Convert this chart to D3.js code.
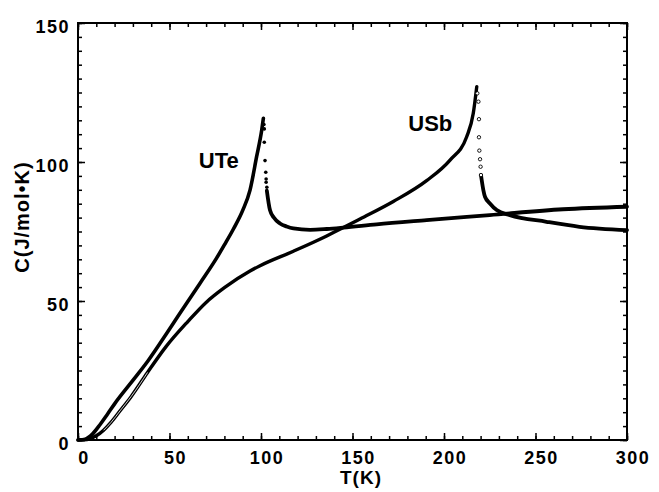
<!DOCTYPE html>
<html>
<head>
<meta charset="utf-8">
<script src="https://cdn.jsdelivr.net/npm/d3@7"></script>
<style>
  body { margin: 0; background: #fff; }
  text { font-family: "Liberation Sans", Arial, Helvetica, sans-serif; font-weight: bold; fill: #000; }
</style>
</head>
<body>
<div id="viz"></div>
<script>
// UTe: rising branch up to the transition
var uteRiseT = [0, 4, 8, 12, 16, 20, 30.2, 38.3, 48.5, 55.7, 61.2, 66.7, 75.8, 80, 85, 90, 94, 97.6, 100.4, 101.3];
var uteRiseC = [0, 0.3, 2.2, 5.5, 9.2, 13, 21.6, 28.5, 38.4, 45.6, 51, 56.4, 65.5, 70.2, 76, 82.6, 89.9, 101.9, 111.5, 115.7];
// UTe: sparse points dropping just above the transition
var uteDropT = [101.6, 101.8, 101.8, 102.2, 102.6, 102.8, 102.8, 103.2];
var uteDropC = [113.5, 111.9, 107.1, 100.5, 96.3, 93.9, 92.7, 90.9];
// UTe: above the transition
var uteHighT = [103.2, 104.9, 107, 110.4, 114, 117.7, 126.8, 135.9, 145, 163.2, 190.5, 225, 265, 300];
var uteHighC = [89.7, 82.7, 80, 77.9, 76.8, 76.1, 75.6, 75.9, 76.4, 77.6, 79.1, 80.9, 83, 83.9];

// USb
var usbRiseT = [0, 5, 10, 14, 18, 23, 29, 38, 48, 60, 70, 80, 94, 99.5, 117.7, 135.9, 145, 154.1, 172.3, 190.5, 203.3, 212.4, 216, 217.9];
var usbRiseC = [0, 0.2, 1.5, 3.5, 6.3, 10.5, 15.6, 24.3, 33.5, 42.6, 49.5, 54.8, 60.8, 62.7, 67.9, 73.4, 76.4, 79.5, 85.8, 93.3, 100.7, 109.1, 117.5, 127.1];
var usbDropT = [218.2, 218.8, 219.1, 219.1, 219.3, 219.7, 220, 220.2];
var usbDropC = [124.7, 121.7, 115.4, 108.9, 104.1, 101, 98.3, 95.3];
var usbHighT = [220.2, 220.6, 221.5, 222.4, 225.1, 228.8, 236, 256, 274, 300];
var usbHighC = [95.3, 93.5, 89.9, 87.5, 85.1, 82.7, 80.9, 78.5, 76.7, 75.5];

var labels = [{name: "UTe", T: 66, C: 98}, {name: "USb", T: 180.5, C: 111}];

var xTicks = [0, 50, 100, 150, 200, 250, 300];
var yTicks = [0, 50, 100, 150];

var W = 659, H = 492;
var margin = {left: 78, right: 32, top: 23, bottom: 52};

var svg = d3.select("#viz").append("svg")
	.attr("width", W)
	.attr("height", H);

var x = d3.scaleLinear().domain([0, 300]).range([margin.left, W - margin.right]);
var y = d3.scaleLinear().domain([0, 150]).range([H - margin.bottom, margin.top]);

function pts(ts, cs) {
	return ts.map(function(t, i){ return [t, cs[i]]; });
}

// axes with inward ticks
function drawAxis(axisFn, tr, step, max, size) {
	var vals = d3.range(0, max + 0.01, step);
	var g = svg.append("g").attr("transform", tr)
		.call(axisFn.tickValues(vals).tickSize(-size).tickFormat(""));
	g.selectAll("path").remove();
	g.selectAll("line").attr("stroke", "#000").attr("stroke-width", 1.5);
	return g;
}
var trBottom = "translate(0," + y(0) + ")", trTop = "translate(0," + y(150) + ")";
var trLeft = "translate(" + x(0) + ",0)", trRight = "translate(" + x(300) + ",0)";
drawAxis(d3.axisBottom(x), trBottom, 10, 300, 4);
drawAxis(d3.axisBottom(x), trBottom, 50, 300, 7);
drawAxis(d3.axisTop(x), trTop, 10, 300, 4);
drawAxis(d3.axisTop(x), trTop, 50, 300, 7);
drawAxis(d3.axisLeft(y), trLeft, 5, 150, 4);
drawAxis(d3.axisLeft(y), trLeft, 50, 150, 7);
drawAxis(d3.axisRight(y), trRight, 5, 150, 4);
drawAxis(d3.axisRight(y), trRight, 50, 150, 7);

svg.append("rect")
	.attr("x", x(0)).attr("y", y(150))
	.attr("width", x(300) - x(0)).attr("height", y(0) - y(150))
	.attr("fill", "none").attr("stroke", "#000").attr("stroke-width", 2);

// tick labels
svg.selectAll("text.xt").data(xTicks).enter().append("text")
	.attr("class", "xt")
	.attr("x", function(d){ return x(d) + 6; })
	.attr("y", 464)
	.attr("text-anchor", "middle")
	.style("font-size", "18px")
	.style("letter-spacing", "1.5px")
	.text(function(d){ return d; });

svg.selectAll("text.yt").data(yTicks).enter().append("text")
	.attr("class", "yt")
	.attr("x", 70)
	.attr("y", function(d){ return y(d) + 10; })
	.attr("text-anchor", "end")
	.style("font-size", "18px")
	.style("letter-spacing", "1.5px")
	.text(function(d){ return d; });

svg.append("text")
	.attr("x", 361).attr("y", 484)
	.attr("text-anchor", "middle")
	.style("font-size", "19px")
	.style("letter-spacing", "1px")
	.text("T(K)");

svg.append("text")
	.attr("transform", "translate(29,217) rotate(-90)")
	.attr("text-anchor", "middle")
	.style("font-size", "20px")
	.style("letter-spacing", "1px")
	.text("C(J/mol\u2022K)");

// curves
var line = d3.line()
	.x(function(d){ return x(d[0]); })
	.y(function(d){ return y(d[1]); })
	.curve(d3.curveMonotoneX);

function drawCurve(data, width) {
	svg.append("path")
		.datum(data)
		.attr("d", line)
		.attr("fill", "none")
		.attr("stroke", "#000")
		.attr("stroke-width", width)
		.attr("stroke-linecap", "round")
		.attr("stroke-linejoin", "round");
}

drawCurve(pts(uteRiseT, uteRiseC), 3.6);
drawCurve(pts(uteHighT, uteHighC), 3.8);
drawCurve(pts(usbRiseT, usbRiseC), 3.4);
drawCurve(pts(usbHighT, usbHighC), 3.8);

// open circle look along the low-T USb branch
svg.append("path")
	.datum(pts(usbRiseT, usbRiseC).filter(function(d){ return d[0] >= 12 && d[0] <= 38; }))
	.attr("d", line)
	.attr("fill", "none")
	.attr("stroke", "#fff")
	.attr("stroke-width", 0.8);

svg.selectAll("circle.ute").data(pts(uteDropT, uteDropC)).enter().append("circle")
	.attr("class", "ute")
	.attr("cx", function(d){ return x(d[0]); })
	.attr("cy", function(d){ return y(d[1]); })
	.attr("r", 1.8)
	.attr("fill", "#000");

svg.selectAll("circle.usb").data(pts(usbDropT, usbDropC)).enter().append("circle")
	.attr("class", "usb")
	.attr("cx", function(d){ return x(d[0]); })
	.attr("cy", function(d){ return y(d[1]); })
	.attr("r", 1.7)
	.attr("fill", "#fff")
	.attr("stroke", "#000")
	.attr("stroke-width", 0.9);

svg.selectAll("text.lab").data(labels).enter().append("text")
	.attr("class", "lab")
	.attr("x", function(d){ return x(d.T); })
	.attr("y", function(d){ return y(d.C); })
	.style("font-size", "22px")
	.text(function(d){ return d.name; });
</script>
</body>
</html>
